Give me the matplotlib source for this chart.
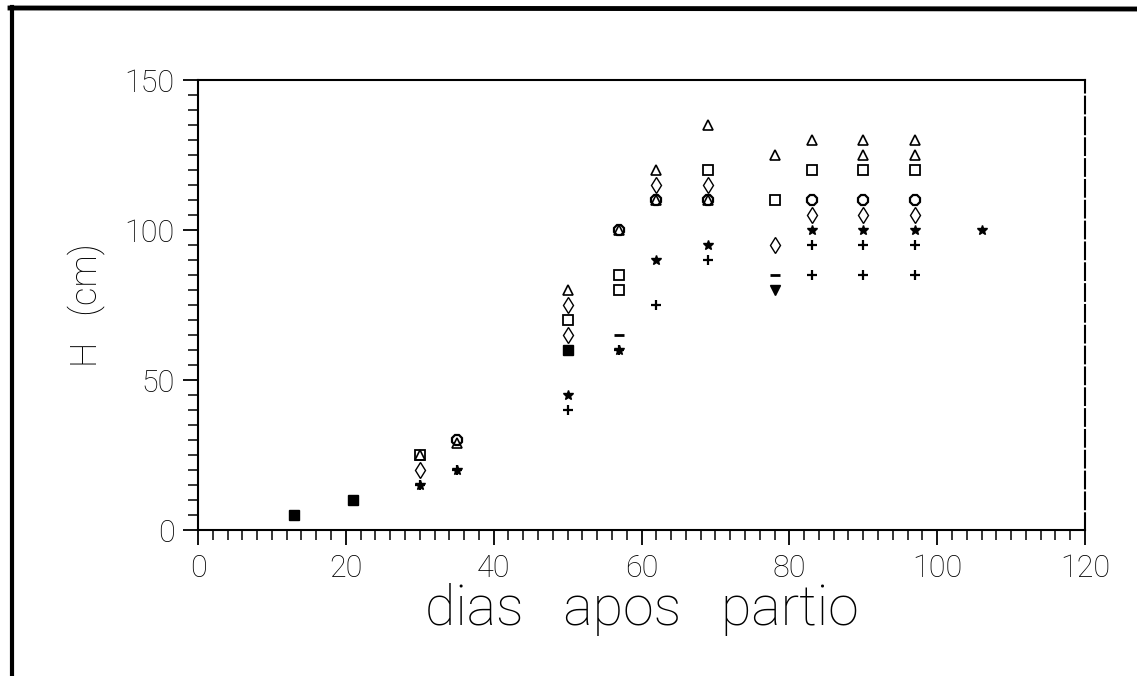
import matplotlib
matplotlib.use("Agg")
import matplotlib.pyplot as plt
from matplotlib.lines import Line2D
from matplotlib.ticker import MultipleLocator

# data: days after sowing vs plant height (cm)
plus_x = [30, 35, 50, 57, 62, 69, 83, 83, 90, 90, 97, 97]
plus_y = [15, 20, 40, 60, 75, 90, 85, 95, 85, 95, 85, 95]

star_x = [30, 35, 50, 57, 62, 69, 83, 90, 97, 106]
star_y = [15, 20, 45, 60, 90, 95, 100, 100, 100, 100]

dash_x = [57, 78]
dash_y = [65, 85]

fsq_x = [13, 21, 50]
fsq_y = [5, 10, 60]

fv_x = [78]
fv_y = [80]

diam_x = [30, 50, 50, 62, 69, 78, 83, 90, 97]
diam_y = [20, 65, 75, 115, 115, 95, 105, 105, 105]

sq_x = [30, 50, 57, 57, 69, 78, 83, 90, 97]
sq_y = [25, 70, 80, 85, 120, 110, 120, 120, 120]

oct_x = [35, 57, 62, 69, 83, 90, 97]
oct_y = [30, 100, 110, 110, 110, 110, 110]

tri_x = [30, 35, 50, 57, 62, 62, 69, 69, 78, 83, 90, 90, 97, 97]
tri_y = [25, 29, 80, 100, 120, 110, 135, 110, 125, 130, 130, 125, 130, 125]

x_ticks = [0, 20, 40, 60, 80, 100, 120]
y_ticks = [0, 50, 100, 150]

plt.rcParams['font.family'] = ['Roboto', 'DejaVu Sans']

fig = plt.figure(figsize=(11.37, 6.76), dpi=100)
ax = fig.add_axes([198 / 1137, 146 / 676, 887 / 1137, 450 / 676])

ms = 7
ax.plot(plus_x, plus_y, '+', color='k', ms=ms, mew=1.6, ls='none')
ax.plot(star_x, star_y, '*', color='k', ms=ms, ls='none')
ax.plot(dash_x, dash_y, '_', color='k', ms=ms, mew=2, ls='none')
ax.plot(fsq_x, fsq_y, 's', color='k', ms=ms, ls='none')
ax.plot(fv_x, fv_y, 'v', color='k', ms=ms, ls='none')
ax.plot(diam_x, diam_y, 'd', mfc='none', mec='k', ms=8, mew=1.0, ls='none')
ax.plot(sq_x, sq_y, 's', mfc='none', mec='k', ms=6.5, mew=1.3, ls='none')
ax.plot(oct_x, oct_y, '8', mfc='none', mec='k', ms=8, mew=1.6, ls='none')
ax.plot(tri_x, tri_y, '^', mfc='none', mec='k', ms=7, mew=1.2, ls='none')

ax.set_xlim(0, 120)
ax.set_ylim(0, 150)
ax.set_xticks(x_ticks)
ax.set_yticks(y_ticks)
ax.xaxis.set_minor_locator(MultipleLocator(2))
ax.yaxis.set_minor_locator(MultipleLocator(5))
ax.tick_params(which='major', direction='out', length=11, width=1.3,
               labelsize=22, pad=6, color='k')
ax.tick_params(which='minor', direction='out', length=7, width=1.1, color='k')
for lab in ax.get_xticklabels() + ax.get_yticklabels():
    lab.set_fontweight('light')

for s in ax.spines.values():
    s.set_linewidth(1.5)
ax.spines['right'].set_linestyle((0, (8, 2)))

ax.set_ylabel('H   (cm)', fontsize=26, fontweight='light', labelpad=14)
ax.set_xlabel('dias   apos   partio', fontsize=40, fontweight='light', labelpad=0)

# outer border of the scanned page
fig.add_artist(Line2D([12 / 1137, 12 / 1137], [0, 1 - 7 / 676], color='k', lw=3,
                      transform=fig.transFigure))
fig.add_artist(Line2D([10 / 1137, 1], [1 - 8 / 676, 1 - 9 / 676], color='k', lw=3.5,
                      transform=fig.transFigure))

fig.savefig('out.png', dpi=100, facecolor='white')
